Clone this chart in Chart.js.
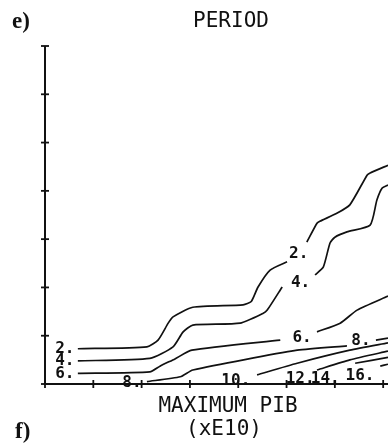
<!DOCTYPE html>
<html>
<head>
<meta charset="utf-8">
<script src="https://cdn.jsdelivr.net/npm/chart.js@4.4.1/dist/chart.umd.min.js"></script>
<style>
  html, body { margin: 0; padding: 0; background: #fff; }
  #wrap { width: 388px; height: 445px; }
</style>
</head>
<body>
<div id="wrap"><canvas id="period-chart" width="388" height="445"></canvas></div>
<script>
// contour lines of the period, in axis tick units (x: max PIB, y: tick index)
// each contour is split where its label sits
var contour2a = [[0.68,0.73],[2.11,0.77],[2.34,0.91],[2.55,1.26],[2.65,1.39],[3.06,1.59],[4.10,1.64],[4.27,1.71],[4.41,2.01],[4.66,2.36],[5.01,2.53]];
var contour2b = [[5.42,2.94],[5.63,3.33],[5.69,3.37],[6.05,3.54],[6.31,3.71],[6.67,4.33],[6.73,4.37],[7.10,4.53]];
var contour4a = [[0.68,0.48],[2.17,0.53],[2.65,0.77],[2.86,1.08],[3.06,1.22],[4.04,1.26],[4.51,1.46],[4.60,1.53],[4.91,2.01]];
var contour4b = [[5.59,2.26],[5.76,2.42],[5.90,2.92],[6.00,3.04],[6.25,3.15],[6.73,3.29],[6.87,3.81],[6.98,4.06],[7.10,4.12]];
var contour6a = [[0.68,0.22],[2.17,0.25],[2.38,0.37],[2.69,0.52],[3.04,0.70],[4.87,0.91]];
var contour6b = [[5.63,1.08],[6.11,1.26],[6.46,1.53],[7.10,1.82]];
var contour8a = [[2.11,0.05],[2.80,0.15],[3.06,0.29],[5.22,0.70],[6.25,0.79]];
var contour8b = [[6.85,0.91],[7.10,0.95]];
var contour10 = [[4.39,0.19],[5.22,0.43],[6.31,0.70],[7.10,0.85]];
var contour12 = [[5.63,0.29],[6.31,0.50],[7.10,0.68]];
var contour14 = [[6.42,0.43],[7.10,0.55]];
var contour16 = [[6.94,0.37],[7.10,0.41]];

// contour value labels
var labelText = ['2.', '4.', '6.', '8.', '10.', '12.', '14.', '16.', '2.', '4.', '6.', '8.'];
var labelX    = [0.41, 0.41, 0.41, 1.80, 3.95, 5.28, 5.80, 6.52, 5.25, 5.29, 5.32, 6.54];
var labelY    = [0.72, 0.48, 0.22, 0.03, 0.06, 0.10, 0.10, 0.17, 2.70, 2.10, 0.95, 0.89];

var xMin = 0, xMax = 7.1;
var yMin = 0, yMax = 7;

function toPoints(arr) {
  return arr.map(function (p) { return { x: p[0], y: p[1] }; });
}

var segments = [contour2a, contour2b, contour4a, contour4b, contour6a, contour6b,
                contour8a, contour8b, contour10, contour12, contour14, contour16];

var datasets = segments.map(function (seg) {
  return {
    data: toPoints(seg),
    showLine: true,
    borderColor: '#111',
    borderWidth: 1.7,
    pointRadius: 0,
    tension: 0.2
  };
});

var plotFont = '"DejaVu Sans Mono", monospace';

// axes with crossing tick marks, plus all the text
var plotterPlugin = {
  id: 'plotter',
  afterDraw: function (chart) {
    var ctx = chart.ctx;
    var area = chart.chartArea;
    var xs = chart.scales.x, ys = chart.scales.y;
    ctx.save();
    ctx.strokeStyle = '#111';
    ctx.lineWidth = 2;
    ctx.beginPath();
    ctx.moveTo(area.left, area.top);
    ctx.lineTo(area.left, area.bottom);
    ctx.lineTo(area.right, area.bottom);
    ctx.stroke();

    ctx.lineWidth = 1.8;
    var t = 4;
    xs.ticks.forEach(function (tk) {
      var px = xs.getPixelForValue(tk.value);
      ctx.beginPath();
      ctx.moveTo(px, area.bottom - t);
      ctx.lineTo(px, area.bottom + t);
      ctx.stroke();
    });
    ys.ticks.forEach(function (tk) {
      var py = ys.getPixelForValue(tk.value);
      ctx.beginPath();
      ctx.moveTo(area.left - t, py);
      ctx.lineTo(area.left + t, py);
      ctx.stroke();
    });

    // contour labels
    ctx.fillStyle = '#111';
    ctx.font = 'bold 16px ' + plotFont;
    ctx.textAlign = 'center';
    ctx.textBaseline = 'middle';
    for (var i = 0; i < labelText.length; i++) {
      ctx.fillText(labelText[i], xs.getPixelForValue(labelX[i]), ys.getPixelForValue(labelY[i]));
    }

    // titles
    ctx.textBaseline = 'alphabetic';
    ctx.font = '21px ' + plotFont;
    ctx.fillText('PERIOD', 231, 27);
    ctx.fillText('MAXIMUM PIB', 228, 412);
    ctx.fillText('(xE10)', 224, 435);

    ctx.textAlign = 'left';
    ctx.font = 'bold 23px "Liberation Serif", serif';
    ctx.fillText('e)', 12, 28);
    ctx.fillText('f)', 15, 438);
    ctx.restore();
  }
};

var periodChart = new Chart(document.getElementById('period-chart'), {
  type: 'scatter',
  data: { datasets: datasets },
  options: {
    responsive: false,
    animation: false,
    devicePixelRatio: 1,
    layout: { padding: { left: 45, top: 46, right: 0, bottom: 61 } },
    plugins: {
      legend: { display: false },
      tooltip: { enabled: false }
    },
    scales: {
      x: {
        type: 'linear',
        display: false,
        min: xMin,
        max: xMax,
        ticks: { stepSize: 1, includeBounds: false }
      },
      y: {
        type: 'linear',
        display: false,
        min: yMin,
        max: yMax,
        ticks: { stepSize: 1 }
      }
    }
  },
  plugins: [plotterPlugin]
});
</script>
</body>
</html>
